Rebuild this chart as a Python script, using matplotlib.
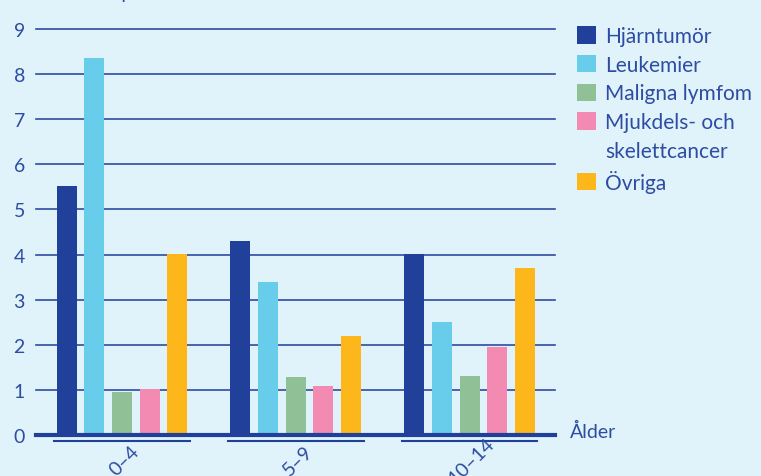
import matplotlib
matplotlib.use("Agg")
import matplotlib.pyplot as plt
from matplotlib.patches import Rectangle
import numpy as np

groups = ["0–4", "5–9", "10–14"]
series = ["Hjärntumör", "Leukemier", "Maligna lymfom", "Mjukdels- och\nskelettcancer", "Övriga"]
hjarntumor = [5.52, 4.30, 4.01]
leukemier = [8.36, 3.39, 2.50]
maligna = [0.95, 1.29, 1.31]
mjukdels = [1.02, 1.09, 1.95]
ovriga = [4.01, 2.20, 3.70]
values = [hjarntumor, leukemier, maligna, mjukdels, ovriga]
colors = ["#21409A", "#68CDEB", "#90C096", "#F28AB2", "#FDB71A"]
yticks = list(range(0, 10))

BG = "#E0F3FA"
TXT = "#2E4CA3"
LINE = "#2E4CA3"

plt.rcParams['font.family'] = ['Lato', 'DejaVu Sans']

fig = plt.figure(figsize=(7.61, 4.77), dpi=100, facecolor=BG)
ax = fig.add_axes([36/761, 1-436/477, (555-36)/761, (436-30)/477])
ax.set_facecolor(BG)

x = np.arange(len(groups))
w = 0.115
step = 0.159
handles = []
for i, (vals, c) in enumerate(zip(values, colors)):
    b = ax.bar(x + (i-2)*step, vals, width=w, color=c, zorder=3)
    handles.append(b)

ax.set_ylim(0, 9)
ax.set_xlim(-0.494, 2.491)
ax.set_yticks(yticks)
ax.yaxis.grid(True, color=LINE, linewidth=1.2, zorder=0)
for gl in ax.get_ygridlines():
    gl.set_clip_on(False)
ax.set_axisbelow(True)
for s in ["top", "right", "left"]:
    ax.spines[s].set_visible(False)
ax.spines["bottom"].set_color("#21409A")
ax.spines["bottom"].set_linewidth(3)
ax.spines["bottom"].set_zorder(4)
ax.tick_params(axis='y', length=0, pad=8, labelsize=14, labelcolor=TXT)
ax.tick_params(axis='x', length=0, labelbottom=False)

# group brackets and labels
for xi, g in zip(x, groups):
    ax.plot([xi-0.39, xi+0.39], [-0.015, -0.015], color="#21409A", lw=1.5,
            transform=ax.get_xaxis_transform(), clip_on=False)
    ax.text(xi+0.012, -0.061, g, rotation=45, ha='center', va='center', rotation_mode='anchor',
            transform=ax.get_xaxis_transform(), fontsize=14, color=TXT)

ax.text(1.029, 0.01, "Ålder", transform=ax.transAxes, ha='left', va='center',
        fontsize=14, color=TXT)

# partially cut-off axis title at top
fig.text(71/761, 1.0 + 1/477, "Antal per 100 000 barn", ha='left', va='baseline', fontsize=14, color=TXT)

blank = Rectangle((0, 0), 1, 1, facecolor='none', edgecolor='none')
leg_handles = handles[:4] + [blank] + handles[4:]
leg_labels = ["Hjärntumör", "Leukemier", "Maligna lymfom", "Mjukdels- och", "skelettcancer", "Övriga"]
fs = 15
fspx = fs * 100 / 72
leg = fig.legend(leg_handles, leg_labels, loc='upper left', bbox_to_anchor=(577/761, 1-27/477),
                 frameon=False, fontsize=fs, borderpad=0, borderaxespad=0,
                 handlelength=19/fspx, handleheight=19/fspx, handletextpad=0.45,
                 labelspacing=0.42)
for t in leg.get_texts():
    t.set_color(TXT)

fig.savefig("out.png", dpi=100, facecolor=BG)
